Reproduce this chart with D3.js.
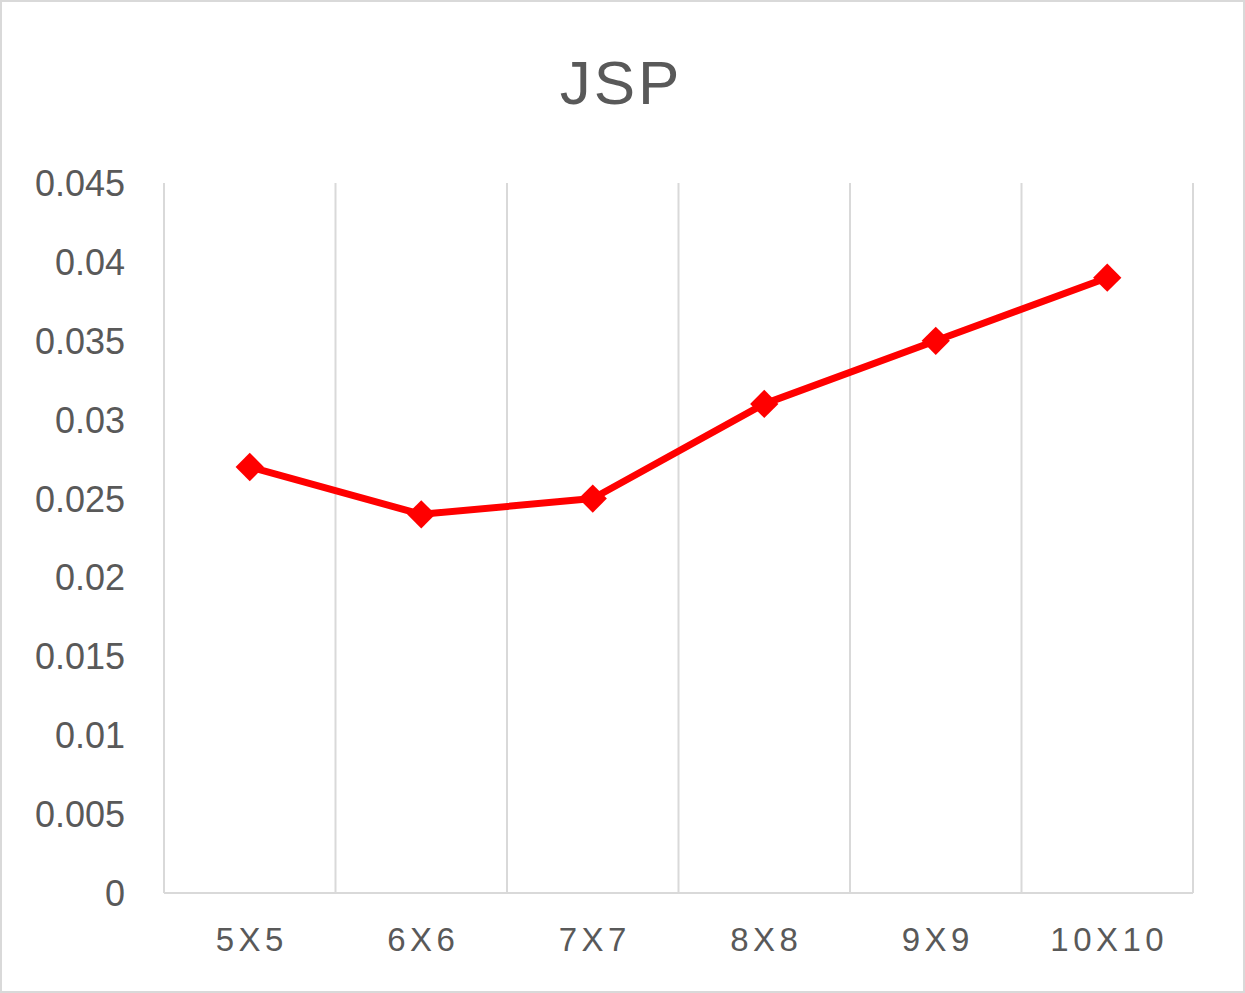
<!DOCTYPE html>
<html><head><meta charset="utf-8">
<script src="https://cdn.jsdelivr.net/npm/d3@7"></script>
<style>body{margin:0;background:#fff}svg{display:block}</style>
</head><body>
<script>
const categories = ["5X5","6X6","7X7","8X8","9X9","10X10"];
const values = [0.027, 0.024, 0.025, 0.031, 0.035, 0.039];
const yTicks = [0,0.005,0.01,0.015,0.02,0.025,0.03,0.035,0.04,0.045];
const title = "JSP";

const W=1245,H=993;
const svg=d3.select("body").append("svg").attr("width",W).attr("height",H);
svg.append("rect").attr("x",1).attr("y",1).attr("width",W-2).attr("height",H-2).attr("fill","#fff").attr("stroke","#d9d9d9").attr("stroke-width",2);
const L=164,R=1193,T=183,B=893;
const x=d3.scaleBand().domain(categories).range([L,R]);
const y=d3.scaleLinear().domain([0,0.045]).range([B,T]);
const font="'Liberation Sans', Arial, sans-serif";
svg.append("text").attr("x",621).attr("y",104).attr("text-anchor","middle").attr("font-family",font).attr("font-size",62).attr("letter-spacing",3).attr("fill","#595959").text(title);
const bounds=categories.map(c=>x(c)).concat([R]);
svg.append("g").selectAll("line").data(bounds).join("line")
 .attr("x1",d=>d).attr("x2",d=>d).attr("y1",T).attr("y2",B).attr("stroke","#d9d9d9").attr("stroke-width",2);
svg.append("line").attr("x1",L).attr("x2",R).attr("y1",B).attr("y2",B).attr("stroke","#d9d9d9").attr("stroke-width",2);
svg.append("g").selectAll("text").data(yTicks).join("text")
 .attr("x",125).attr("y",d=>y(d)).attr("dy","0.36em").attr("text-anchor","end")
 .attr("font-family",font).attr("font-size",36).attr("fill","#595959").text(d=>d3.format("")(+d.toFixed(3)));
svg.append("g").selectAll("text").data(categories).join("text")
 .attr("x",d=>x(d)+x.bandwidth()/2+2).attr("y",951).attr("text-anchor","middle")
 .attr("font-family",font).attr("font-size",33).attr("letter-spacing",4.5).attr("fill","#595959").text(d=>d);
const pts=categories.map((c,i)=>[x(c)+x.bandwidth()/2,y(values[i])]);
svg.append("path").attr("d",d3.line()(pts)).attr("fill","none").attr("stroke","#ff0000").attr("stroke-width",7).attr("stroke-linejoin","round");
svg.append("g").selectAll("path").data(pts).join("path")
 .attr("d",d3.symbol().type(d3.symbolSquare).size(400)())
 .attr("transform",d=>`translate(${d[0]},${d[1]}) rotate(45)`).attr("fill","#ff0000");
</script>
</body></html>
